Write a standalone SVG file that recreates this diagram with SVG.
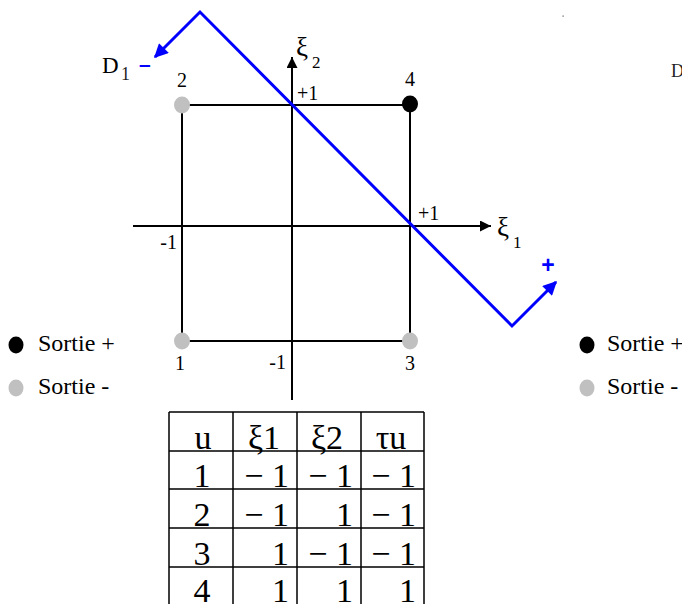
<svg xmlns="http://www.w3.org/2000/svg" width="682" height="604" viewBox="0 0 682 604">
<style>
.l17{font-family:"Liberation Serif","Times New Roman",serif;font-size:17px;fill:#000}
.l18{font-family:"Liberation Serif","Times New Roman",serif;font-size:18px;fill:#222}
.l20{font-family:"Liberation Serif","Times New Roman",serif;font-size:20px;fill:#000}
.l23{font-family:"Liberation Serif","Times New Roman",serif;font-size:23px;fill:#000}
.l24{font-family:"Liberation Serif","Times New Roman",serif;font-size:24px;fill:#000}
.xi{font-family:"Liberation Serif","Times New Roman",serif;font-size:27px;fill:#000}
.bsign{font-family:"Liberation Sans",Arial,sans-serif;font-weight:bold;fill:#0000ff}
.ln{stroke:#000;stroke-width:2;fill:none}
.tb{stroke:#000;stroke-width:1.5;fill:none}
.blue{stroke:#0000ff;stroke-width:3;fill:none;stroke-linejoin:miter}
.grey{fill:#c0c0c0}
.blk{fill:#000}
.cell{font-family:"Liberation Serif","Times New Roman",serif;font-size:34px;fill:#000}
</style>
<defs>
<marker id="ah" viewBox="0 0 10 10" refX="10" refY="5" markerWidth="11" markerHeight="11" markerUnits="userSpaceOnUse" orient="auto">
<path d="M0,0 L10,5 L0,10 Z" fill="#000"/>
</marker>
<marker id="bh" viewBox="0 0 10 10" refX="9" refY="5" markerWidth="15" markerHeight="14" markerUnits="userSpaceOnUse" orient="auto-start-reverse">
<path d="M0,0 L10,5 L0,10 Z" fill="#0000ff"/>
</marker>
</defs>
<rect x="562.5" y="15.5" width="1.2" height="1.2" fill="#555"/>
<g id="axes">
<line class="ln" x1="133" y1="226" x2="491" y2="226" marker-end="url(#ah)"/>
<line class="ln" x1="292" y1="400" x2="292" y2="57" marker-end="url(#ah)"/>
<text class="xi" x="497" y="236">ξ</text>
<text class="l17" x="513" y="248">1</text>
<text class="xi" x="296" y="56">ξ</text>
<text class="l17" x="312" y="68">2</text>
<text class="l20" x="297" y="100">+1</text>
<text class="l20" x="418" y="220">+1</text>
<text class="l20" x="177" y="249" text-anchor="end">-1</text>
<text class="l20" x="286" y="369" text-anchor="end">-1</text>
</g>
<g id="connectors">
<path class="ln" d="M182,341 L182,105 L410,105 L410,341 L182,341"/>
</g>
<g id="node-1">
<ellipse class="grey" cx="182" cy="341" rx="8" ry="8.5"/>
<text class="l20" x="180" y="370" text-anchor="middle">1</text>
</g>
<g id="node-2">
<ellipse class="grey" cx="182" cy="105" rx="8" ry="8.5"/>
<text class="l20" x="182" y="87" text-anchor="middle">2</text>
</g>
<g id="node-3">
<ellipse class="grey" cx="410" cy="341" rx="8" ry="8.5"/>
<text class="l20" x="410" y="370" text-anchor="middle">3</text>
</g>
<g id="node-4">
<ellipse class="blk" cx="410" cy="104" rx="8" ry="8.5"/>
<text class="l20" x="410" y="86" text-anchor="middle">4</text>
</g>
<g id="D1">
<path class="blue" d="M155,57 L200,12 L512,326 L556,282" marker-start="url(#bh)" marker-end="url(#bh)"/>
<text class="l23" x="102" y="73">D</text>
<text class="l18" x="121" y="80">1</text>
<text class="bsign" x="139" y="71" font-size="21">–</text>
<text class="bsign" x="548" y="273" font-size="23" text-anchor="middle">+</text>
</g>
<g id="legend-left">
<ellipse class="blk" cx="16" cy="345" rx="7.5" ry="8.5"/>
<text class="l24" x="38" y="351">Sortie +</text>
<ellipse class="grey" cx="16" cy="388" rx="7.5" ry="8.5"/>
<text class="l24" x="38" y="394">Sortie -</text>
</g>
<g id="legend-right">
<ellipse class="blk" cx="587" cy="345" rx="7.5" ry="8.5"/>
<text class="l24" x="607" y="351">Sortie +</text>
<ellipse class="grey" cx="587" cy="388" rx="7.5" ry="8.5"/>
<text class="l24" x="607" y="394">Sortie -</text>
</g>
<text class="l18" x="671" y="77">D</text>
<g id="table">
<path class="tb" d="M169,412 L424,412 M169,451 L424,451 M169,489 L424,489 M169,528 L424,528 M169,567 L424,567 M169,412 L169,604 M233,412 L233,604 M297,412 L297,604 M361,412 L361,604 M424,412 L424,604"/>
<text class="cell" x="203" y="449" text-anchor="middle">u</text>
<text class="cell" x="264" y="449" text-anchor="middle">ξ1</text>
<text class="cell" x="327" y="449" text-anchor="middle">ξ2</text>
<text class="cell" x="391" y="449" text-anchor="middle">τu</text>
<text class="cell" x="202" y="487" text-anchor="middle">1</text>
<text class="cell" x="289" y="487" text-anchor="end">− 1</text>
<text class="cell" x="353" y="487" text-anchor="end">− 1</text>
<text class="cell" x="416" y="487" text-anchor="end">− 1</text>
<text class="cell" x="202" y="526" text-anchor="middle">2</text>
<text class="cell" x="289" y="526" text-anchor="end">− 1</text>
<text class="cell" x="353" y="526" text-anchor="end">1</text>
<text class="cell" x="416" y="526" text-anchor="end">− 1</text>
<text class="cell" x="202" y="565" text-anchor="middle">3</text>
<text class="cell" x="289" y="565" text-anchor="end">1</text>
<text class="cell" x="353" y="565" text-anchor="end">− 1</text>
<text class="cell" x="416" y="565" text-anchor="end">− 1</text>
<text class="cell" x="202" y="602" text-anchor="middle">4</text>
<text class="cell" x="289" y="602" text-anchor="end">1</text>
<text class="cell" x="353" y="602" text-anchor="end">1</text>
<text class="cell" x="416" y="602" text-anchor="end">1</text>
</g>
</svg>
